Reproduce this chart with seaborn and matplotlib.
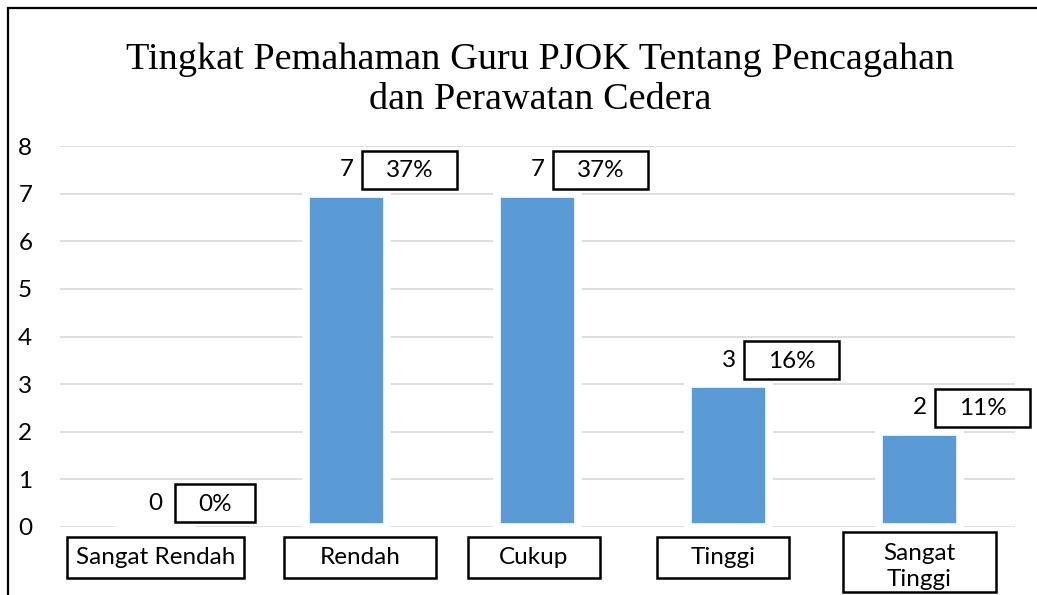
import matplotlib
matplotlib.use("Agg")
import matplotlib.pyplot as plt
from matplotlib.patches import Rectangle
import seaborn as sns

# data
categories = ["Sangat Rendah", "Rendah", "Cukup", "Tinggi", "Sangat Tinggi"]
tick_labels = ["Sangat Rendah", "Rendah", "Cukup", "Tinggi", "Sangat\nTinggi"]
counts = [0, 7, 7, 3, 2]
percents = ["0%", "37%", "37%", "16%", "11%"]
title = "Tingkat Pemahaman Guru PJOK Tentang Pencagahan\ndan Perawatan Cedera"

sns.set_theme(style="white")
plt.rcParams["font.family"] = ["Lato", "DejaVu Sans"]
fs = 17.5

fig = plt.figure(figsize=(10.37, 5.95), dpi=100)
ax = fig.add_axes([0.0579, 0.1143, 0.9210, 0.6403])

sns.barplot(x=categories, y=counts, color="#5B9BD5", saturation=1,
            width=0.42, edgecolor="white", linewidth=5.5, ax=ax, zorder=3)

ax.set_ylim(0, 8)
ax.set_xlim(-0.5, 4.5)
ax.set_yticks(range(0, 9))
ax.yaxis.grid(True, color="#d9d9d9", linewidth=1.2, zorder=0)
ax.set_axisbelow(True)
for s in ax.spines.values():
    s.set_visible(False)
ax.tick_params(axis="y", length=0, pad=20, labelsize=fs, labelcolor="black")
ax.set_xticks(range(len(categories)))
ax.set_xticklabels([])
ax.tick_params(axis="x", length=0)
ax.set_xlabel("")
ax.set_ylabel("")

# value labels with boxed percentages
for i, (v, p) in enumerate(zip(counts, percents)):
    ax.text(i, v + 0.5, str(v), ha="center", va="center", fontsize=fs,
            color="black", zorder=5)
    w = 0.42 if len(p) < 3 else 0.5
    cx = i + (0.31 if len(p) < 3 else 0.33)
    ax.add_patch(Rectangle((cx - w / 2, v + 0.1), w, 0.8, facecolor="white",
                           edgecolor="black", linewidth=1.8, clip_on=False, zorder=4))
    ax.text(cx, v + 0.48, p, ha="center", va="center", fontsize=fs,
            color="black", zorder=5, clip_on=False)

# boxed category labels below the axis
box_w = [0.93, 0.80, 0.69, 0.69, 0.80]
box_dx = [0.0, 0.07, -0.02, -0.03, 0.0]
trans = ax.get_xaxis_transform()
for i, lab in enumerate(tick_labels):
    two = "\n" in lab
    y0, y1 = (-0.171, -0.013) if two else (-0.134, -0.026)
    cx = i + box_dx[i]
    ax.add_patch(Rectangle((cx - box_w[i] / 2, y0), box_w[i], y1 - y0,
                           transform=trans, facecolor="white", edgecolor="black",
                           linewidth=1.8, clip_on=False, zorder=4))
    ax.text(cx, (y0 + y1) / 2 - (0.012 if two else 0), lab, transform=trans,
            ha="center", va="center", fontsize=fs, color="black",
            linespacing=1.3, clip_on=False, zorder=5)

fig.text(0.521, 0.866, title, ha="center", va="center", fontsize=27.5,
         family="Liberation Serif", linespacing=1.2, color="black")

# outer chart frame (only top and left visible in the crop)
fig.patches.append(Rectangle((8 / 1037, -0.5), 2.0, 1.5 - 7.5 / 595,
                             transform=fig.transFigure, fill=False,
                             edgecolor="black", linewidth=1.6))

fig.savefig("out.png", dpi=100)
